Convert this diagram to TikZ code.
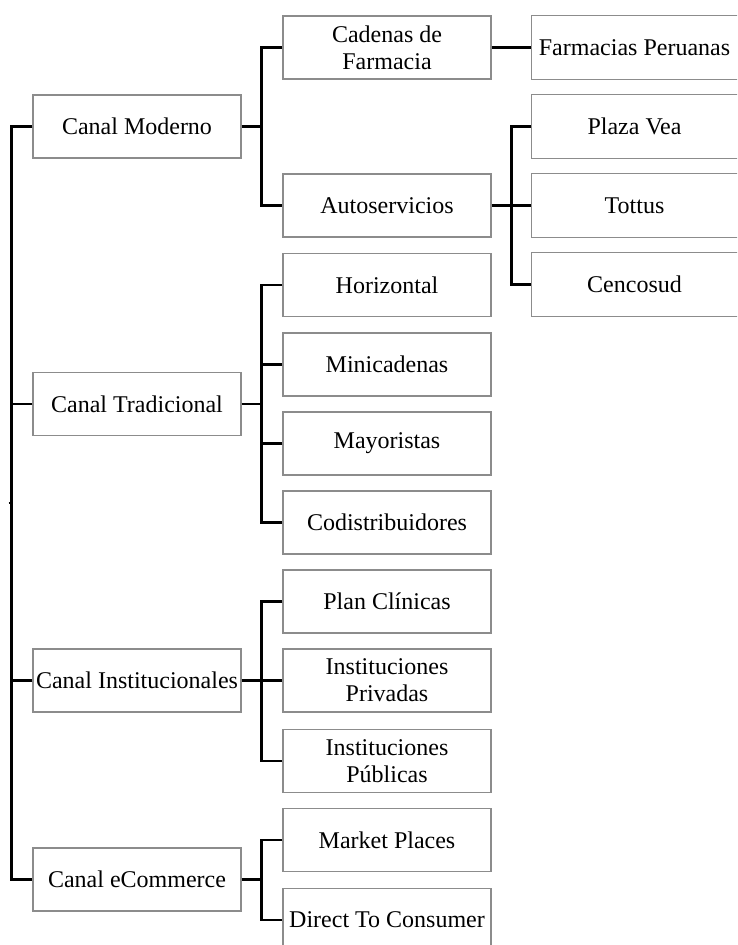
\documentclass[tikz,border=0pt]{standalone}
\usepackage{fontspec}
\setmainfont{Liberation Serif}
\begin{document}
\begin{tikzpicture}[x=1pt,y=-1pt,
  box/.style={draw=black!45, line width=1.2pt, minimum width=208pt, minimum height=63pt, inner sep=0pt,
    align=center, font=\fontsize{24}{27}\selectfont},
  boxc/.style={box, draw=none, minimum width=205pt},
  boxline/.style={draw=black!45, line width=1.2pt},
  conn/.style={draw=black, line width=2.2pt}]
\useasboundingbox (0,0) rectangle (737,945);
\clip (0,0) rectangle (737,945);
% level 1
\node[box] (cm) at (137,126.5) {Canal Moderno};
\node[box] (ct) at (137,404) {Canal Tradicional};
\node[box] (ci) at (137,680.5) {Canal Institucionales};
\node[box] (ce) at (137,879.5) {Canal eCommerce};
% level 2
\node[box] (cdf) at (387,47.5) {Cadenas de\\Farmacia};
\node[box] (aut) at (387,205.5) {Autoservicios};
\node[box] (hor) at (387,285) {Horizontal};
\node[box] (min) at (387,364.5) {Minicadenas};
\node[box] (may) at (387,443.5) {Mayoristas};
\node[box] (cod) at (387,522.5) {Codistribuidores};
\node[box] (plc) at (387,601.5) {Plan Clínicas};
\node[box] (ipr) at (387,680.5) {Instituciones\\Privadas};
\node[box] (ipu) at (387,761) {Instituciones\\Públicas};
\node[box] (mkp) at (387,840) {Market Places};
\node[box] (dtc) at (387,920) {Direct To Consumer};
% level 3 (boxes run past the right edge)
\node[boxc] (fp) at (634.5,47.5) {Farmacias Peruanas};
\node[boxc] (pv) at (634.5,126.5) {Plaza Vea};
\node[boxc] (tot) at (634.5,205.5) {Tottus};
\node[boxc] (cen) at (634.5,284.5) {Cencosud};
\foreach \n in {fp,pv,tot,cen}
  \draw[boxline] (\n.north west) rectangle ([xshift=20pt]\n.south east);
% trunk
\draw[conn] (cm.west) -- ++(-21,0) coordinate (trk) |- (ce.west);
\draw[conn] (ct.west) -- (ct.west -| trk);
\draw[conn] (ci.west) -- (ci.west -| trk);
\coordinate (tick) at (8.5,503);
\draw[conn] (tick) -- (tick -| trk);
% canal moderno
\draw[conn] (cdf.west) -- ++(-21,0) coordinate (b1) |- (aut.west);
\draw[conn] (cm.east) -- (cm.east -| b1);
\draw[conn] (cdf.east) -- (fp.west);
% autoservicios
\draw[conn] (pv.west) -- ++(-20,0) coordinate (b2) |- (cen.west);
\draw[conn] (aut.east) -- (tot.west);
% tradicional
\draw[conn] (hor.west) -- ++(-21,0) coordinate (b3) |- (cod.west);
\draw[conn] (min.west) -- (min.west -| b3);
\draw[conn] (may.west) -- (may.west -| b3);
\draw[conn] (ct.east) -- (ct.east -| b3);
% institucionales
\draw[conn] (plc.west) -- ++(-21,0) coordinate (b4) |- (ipu.west);
\draw[conn] (ci.east) -- (ipr.west);
% ecommerce
\draw[conn] (mkp.west) -- ++(-21,0) coordinate (b5) |- (dtc.west);
\draw[conn] (ce.east) -- (ce.east -| b5);
\end{tikzpicture}
\end{document}
